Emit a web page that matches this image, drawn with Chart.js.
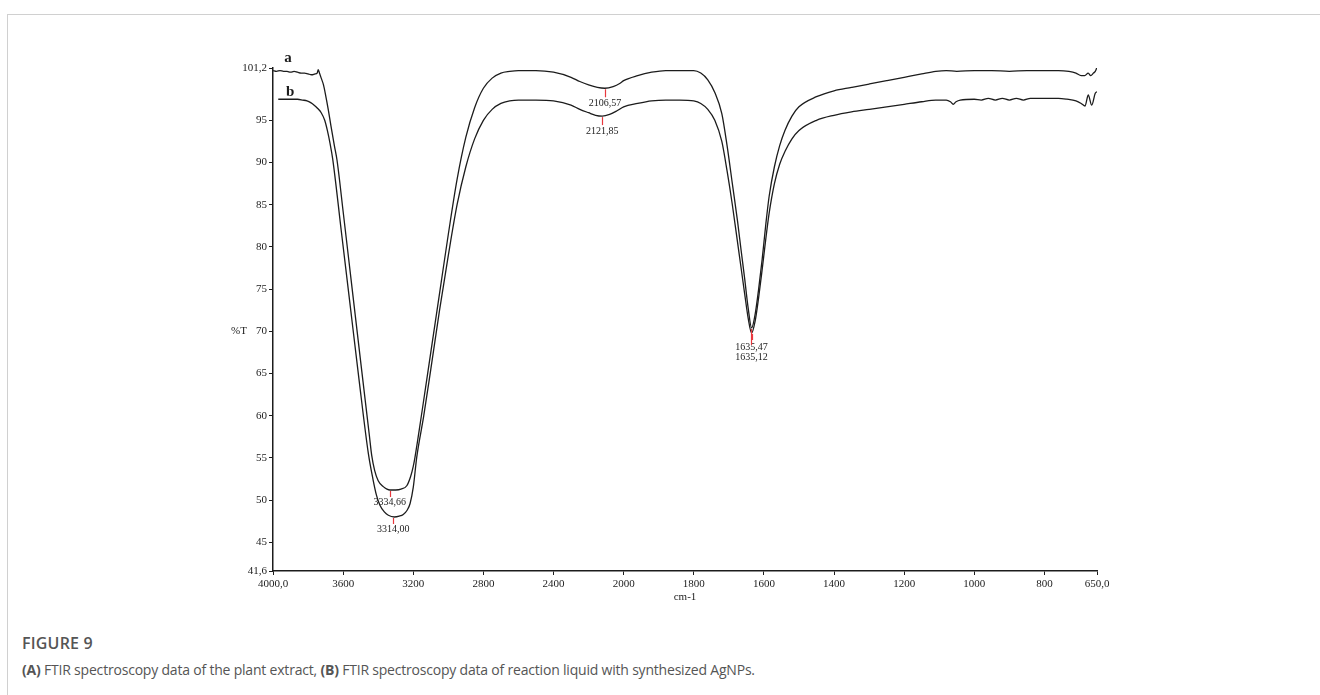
<!DOCTYPE html>
<html>
<head>
<meta charset="utf-8">
<script src="https://cdn.jsdelivr.net/npm/chart.js@4.4.1/dist/chart.umd.min.js"></script>
<style>
  body { margin: 0; width: 1320px; height: 695px; position: relative; background: #fff; overflow: hidden; }
  .frame { position: absolute; left: 7px; top: 14px; right: 0; bottom: 0; border-top: 1px solid #d0d0d0; border-left: 1px solid #d0d0d0; }
  .plot { position: absolute; left: 0; top: 0; width: 1320px; height: 608px; }
  .caption { position: absolute; left: 22px; top: 632px; font-family: 'Open Sans', sans-serif; color: #555; }
  .caption .fig { font-size: 16px; font-weight: 600; letter-spacing: 0.2px; }
  .caption .txt { font-size: 14px; margin-top: 6px; letter-spacing: -0.2px; }
</style>
</head>
<body>
<div class="frame"></div>
<div class="plot"><canvas id="chart" width="1320" height="608"></canvas></div>
<div class="caption">
  <div class="fig">FIGURE 9</div>
  <div class="txt"><b>(A)</b> FTIR spectroscopy data of the plant extract, <b>(B)</b> FTIR spectroscopy data of reaction liquid with synthesized AgNPs.</div>
</div>
<script>
// curve a - plant extract (wavenumber cm-1, %T)
const wnA = [4000, 3980, 3960, 3940, 3920, 3900, 3880, 3860, 3840, 3820, 3800, 3780, 3760, 3748, 3742, 3735, 3725, 3712, 3700, 3685,
  3670, 3650, 3635, 3600, 3550, 3500, 3450, 3437, 3420, 3400, 3371, 3350, 3333, 3300, 3270, 3237, 3215, 3200, 3190, 3150,
  3100, 3050, 3000, 2950, 2900, 2850, 2800, 2750, 2700, 2650, 2600, 2500, 2400, 2300, 2250, 2200, 2150, 2107, 2060, 2020,
  2000, 1960, 1920, 1880, 1840, 1800, 1780, 1760, 1740, 1720, 1705, 1690, 1675, 1665, 1655, 1645, 1635, 1625, 1615, 1605,
  1595, 1585, 1570, 1555, 1540, 1520, 1500, 1450, 1400, 1350, 1300, 1250, 1200, 1150, 1110, 1080, 1050, 1000, 950, 900,
  850, 800, 760, 730, 710, 695, 685, 675, 668, 660, 655, 650];
const tA = [100.9, 100.8, 100.9, 100.8, 100.8, 100.7, 100.8, 100.7, 100.6, 100.6, 100.5, 100.4, 100.5, 100.6, 101.0, 100.6, 100.0, 99.2, 98.0, 96.3,
  94.4, 92.0, 90.3, 84.2, 75.3, 66.4, 57.6, 55.3, 53.5, 52.3, 51.6, 51.3, 51.2, 51.2, 51.3, 51.7, 52.8, 54.0, 55.1, 60.5,
  67.5, 74.5, 81.5, 88.0, 93.0, 96.5, 98.8, 100.0, 100.6, 100.8, 100.9, 100.9, 100.7, 100.1, 99.6, 99.2, 98.9, 98.8, 99.0, 99.4,
  99.7, 100.3, 100.7, 100.9, 100.9, 100.9, 100.6, 99.8, 98.3, 95.8, 92.0, 87.5, 83.0, 79.6, 76.3, 72.8, 70.4, 72.0, 75.0, 78.5,
  82.5, 86.0, 89.5, 92.0, 93.8, 95.5, 96.6, 97.8, 98.5, 98.9, 99.3, 99.7, 100.1, 100.5, 100.8, 100.9, 100.8, 100.9, 100.9, 100.8,
  100.9, 100.9, 100.9, 100.8, 100.6, 100.3, 100.3, 100.6, 100.3, 100.6, 100.8, 101.3];

// curve b - reaction liquid with AgNPs
const wnB = [3970, 3940, 3900, 3860, 3830, 3806, 3785, 3765, 3745, 3725, 3705, 3690, 3675, 3660, 3610, 3560, 3510, 3456, 3430, 3410,
  3390, 3365, 3342, 3308, 3280, 3257, 3235, 3218, 3200, 3180, 3140, 3100, 3050, 3000, 2950, 2900, 2850, 2800, 2750, 2700,
  2650, 2600, 2500, 2400, 2300, 2250, 2200, 2160, 2122, 2080, 2040, 2000, 1960, 1920, 1880, 1840, 1800, 1780, 1760, 1740,
  1720, 1705, 1690, 1675, 1665, 1655, 1645, 1635, 1625, 1615, 1605, 1595, 1585, 1570, 1555, 1540, 1520, 1500, 1450, 1400,
  1350, 1300, 1250, 1200, 1150, 1110, 1080, 1068, 1060, 1052, 1040, 1000, 980, 960, 940, 920, 900, 880, 860, 840,
  800, 760, 736, 710, 695, 684, 675, 665, 655, 650];
const tB = [97.5, 97.5, 97.5, 97.5, 97.4, 97.3, 97.1, 96.8, 96.4, 95.9, 95.0, 93.8, 92.3, 90.5, 81.8, 73.1, 64.4, 55.5, 52.5, 50.6,
  49.4, 48.6, 48.2, 48.0, 48.1, 48.3, 48.8, 49.6, 51.5, 55.1, 60.0, 65.5, 72.5, 79.0, 85.0, 89.5, 92.8, 95.0, 96.3, 97.0,
  97.3, 97.4, 97.4, 97.3, 96.8, 96.3, 95.9, 95.6, 95.5, 95.7, 96.1, 96.6, 97.0, 97.3, 97.4, 97.4, 97.3, 97.0, 96.3, 95.0,
  92.5, 89.0, 85.0, 80.5, 77.5, 74.5, 71.6, 69.8, 71.2, 74.0, 77.3, 80.8, 84.0, 87.5, 89.8, 91.3, 92.8, 93.8, 95.0, 95.6,
  96.0, 96.3, 96.6, 96.9, 97.2, 97.4, 97.4, 97.2, 96.9, 97.2, 97.4, 97.5, 97.4, 97.6, 97.4, 97.6, 97.4, 97.6, 97.4, 97.6,
  97.6, 97.6, 97.5, 97.3, 97.0, 96.7, 98.0, 96.8, 98.2, 98.4];

const curveNames = ['a', 'b'];

// axis ticks
const xTickWn = [4000, 3600, 3200, 2800, 2400, 2000, 1800, 1600, 1400, 1200, 1000, 800, 650];
const xTickLabels = ['4000,0', '3600', '3200', '2800', '2400', '2000', '1800', '1600', '1400', '1200', '1000', '800', '650,0'];
const yTickVals = [41.6, 45, 50, 55, 60, 65, 70, 75, 80, 85, 90, 95, 101.2];
const yTickLabels = ['41,6', '45', '50', '55', '60', '65', '70', '75', '80', '85', '90', '95', '101,2'];

// peak picks
const peakLabels = ['3334,66', '3314,00', '2106,57', '2121,85', '1635,47', '1635,12'];
const peakWn = [3334.66, 3314.00, 2106.57, 2121.85, 1635.47, 1635.12];
const peakT = [51.2, 48.0, 98.8, 95.5, 70.4, 69.8];

// red marker length and label offset below the curve (px)
const peakTickLen = [6, 6, 8, 8, 16, 6];
const peakLabelGap = [12, 12, 15, 15, 19, 24];

// instrument plot: scale is expanded 2x below 2000 cm-1
function toU(wn) {
  return wn >= 2000 ? 4000 - wn : 2000 + (2000 - wn) * 2;
}

function series(wn, t) {
  return wn.map((w, i) => ({ x: toU(w), y: t[i] }));
}

const serif = 'Liberation Serif, Times New Roman, serif';
const ink = '#1c1c1c';

const annotations = {
  id: 'annotations',
  afterDraw(chart) {
    const ctx = chart.ctx;
    const xs = chart.scales.x;
    const ys = chart.scales.y;
    ctx.save();

    // labels first, red markers on top
    peakWn.forEach((w, i) => {
      const px = xs.getPixelForValue(toU(w));
      const py = ys.getPixelForValue(peakT[i]);
      ctx.fillStyle = ink;
      ctx.font = '10px ' + serif;
      ctx.textAlign = 'center';
      ctx.textBaseline = 'middle';
      ctx.fillText(peakLabels[i], px, py + peakLabelGap[i]);
    });
    peakWn.forEach((w, i) => {
      const px = Math.round(xs.getPixelForValue(toU(w))) + 0.5;
      const py = ys.getPixelForValue(peakT[i]);
      ctx.strokeStyle = '#e8383d';
      ctx.lineWidth = 1.2;
      ctx.beginPath();
      ctx.moveTo(px, py + 1);
      ctx.lineTo(px, py + 1 + peakTickLen[i]);
      ctx.stroke();
    });

    // curve letters
    ctx.fillStyle = ink;
    ctx.font = 'bold 15px ' + serif;
    ctx.textAlign = 'center';
    ctx.textBaseline = 'alphabetic';
    ctx.fillText(curveNames[0], xs.getPixelForValue(toU(wnA[0])) + 15, ys.getPixelForValue(tA[0]) - 9);
    ctx.fillText(curveNames[1], xs.getPixelForValue(toU(wnB[0])) + 12, ys.getPixelForValue(tB[0]) - 3);

    // %T next to the 70 tick
    ctx.font = '11px ' + serif;
    ctx.textAlign = 'right';
    ctx.textBaseline = 'middle';
    ctx.fillText('%T', chart.chartArea.left - 26, ys.getPixelForValue(70));
    ctx.restore();
  }
};

const lineStyle = {
  borderColor: ink,
  borderWidth: 1.3,
  pointRadius: 0,
  fill: false,
  cubicInterpolationMode: 'monotone'
};

new Chart(document.getElementById('chart'), {
  type: 'line',
  data: {
    datasets: [
      Object.assign({ label: curveNames[0], data: series(wnA, tA) }, lineStyle),
      Object.assign({ label: curveNames[1], data: series(wnB, tB) }, lineStyle)
    ]
  },
  options: {
    responsive: false,
    animation: false,
    events: [],
    layout: { padding: { left: 0, top: 68, right: 223, bottom: 0 } },
    plugins: {
      legend: { display: false },
      tooltip: { enabled: false }
    },
    scales: {
      x: {
        type: 'linear',
        min: toU(4000),
        max: toU(650),
        afterBuildTicks: (s) => { s.ticks = xTickWn.map(w => ({ value: toU(w) })); },
        afterFit: (s) => { s.height = 37; },
        ticks: {
          autoSkip: false,
          maxRotation: 0,
          padding: 3,
          color: ink,
          font: { family: serif, size: 11 },
          callback: (v, i) => xTickLabels[i]
        },
        grid: { display: true, drawOnChartArea: false, drawTicks: true, tickLength: 4, color: ink },
        border: { display: true, color: ink, width: 1.5 },
        title: { display: true, text: 'cm-1', color: ink, font: { family: serif, size: 11 }, padding: { top: 0, bottom: 4 } }
      },
      y: {
        type: 'linear',
        min: 41.6,
        max: 101.2,
        afterBuildTicks: (s) => { s.ticks = yTickVals.map(v => ({ value: v })); },
        afterFit: (s) => { s.width = 273; },
        ticks: {
          autoSkip: false,
          padding: 2,
          color: ink,
          font: { family: serif, size: 11 },
          callback: (v, i) => yTickLabels[i]
        },
        grid: { display: true, drawOnChartArea: false, drawTicks: true, tickLength: 4, color: ink },
        border: { display: true, color: ink, width: 1.5 }
      }
    }
  },
  plugins: [annotations]
});
</script>
</body>
</html>
